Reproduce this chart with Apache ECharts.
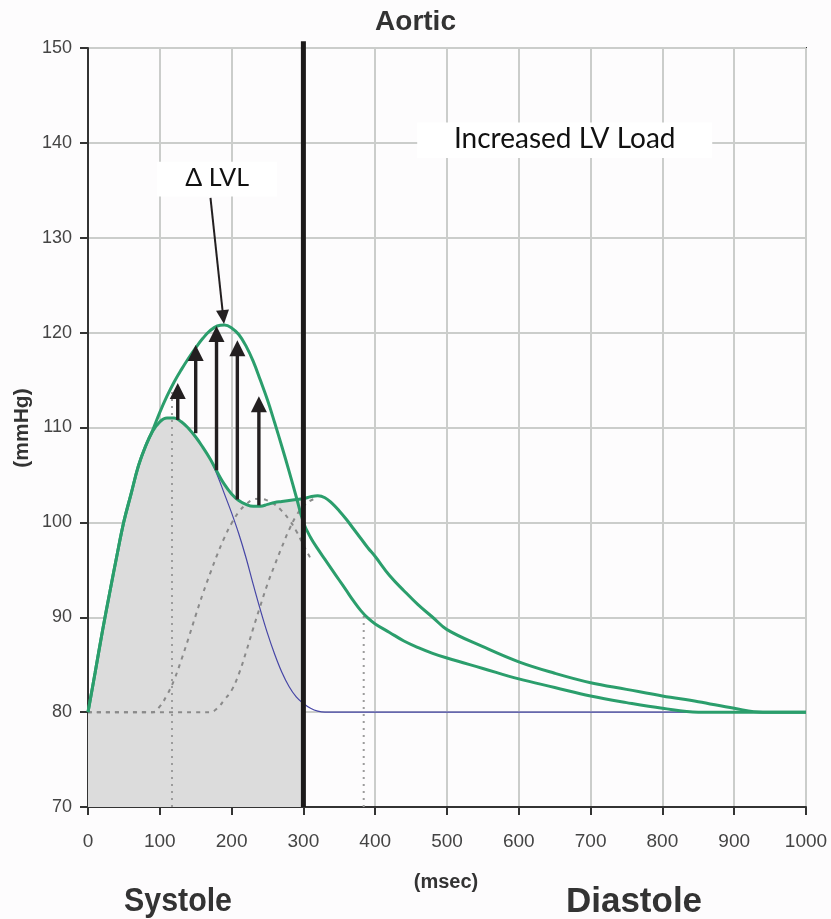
<!DOCTYPE html>
<html>
<head>
<meta charset="utf-8">
<title>Aortic</title>
<script src="https://cdn.jsdelivr.net/npm/echarts@6/dist/echarts.min.js"></script>
<style>
  html, body { margin: 0; padding: 0; background: #fdfcfd; }
  #chart { width: 831px; height: 919px; }
</style>
</head>
<body>
<div id="chart"></div>
<script>
// ---- aortic pressure (mmHg) against time (msec) ----
const xTicks = [0, 100, 200, 300, 400, 500, 600, 700, 800, 900, 1000];
const yTicks = [70, 80, 90, 100, 110, 120, 130, 140, 150];

// baseline aortic pressure wave
const baseTime = [0, 10, 20, 30, 40, 50, 60, 70, 80, 90, 100, 110, 120, 130, 140, 150, 160, 170, 180, 190,
  200, 210, 220, 230, 240, 250, 260, 270, 280, 290, 300, 310, 320, 330, 340, 350, 360, 370, 380, 390,
  400, 420, 440, 460, 480, 500, 550, 600, 650, 700, 750, 800, 850, 900, 940, 1000];
const basePressure = [80, 84.2, 88.5, 92.5, 96.4, 100.1, 103.0, 105.9, 108.0, 109.6, 110.6, 111.0, 111.0, 110.6, 109.9, 109.0, 107.9, 106.7, 105.3, 104.0,
  103.0, 102.3, 101.9, 101.7, 101.7, 101.9, 102.1, 102.2, 102.3, 102.4, 102.5, 102.7, 102.8, 102.6, 102.0, 101.2, 100.3, 99.3, 98.3, 97.3,
  96.4, 94.4, 92.8, 91.3, 90.0, 88.7, 86.9, 85.3, 84.1, 83.1, 82.4, 81.7, 81.1, 80.4, 80.0, 80.0];

// pressure wave under increased LV load
const loadTime = [0, 10, 20, 30, 40, 50, 60, 70, 80, 90, 100, 110, 120, 130, 140, 150, 160, 170, 180, 190,
  200, 210, 220, 230, 240, 250, 260, 270, 280, 290, 300, 310, 320, 330, 340, 350, 360, 370, 380, 390,
  400, 420, 440, 460, 480, 500, 550, 600, 650, 700, 750, 800, 850, 1000];
const loadPressure = [80, 84.2, 88.5, 92.5, 96.4, 100.1, 103.0, 105.9, 108.0, 109.7, 111.6, 113.3, 114.8, 116.1, 117.3, 118.4, 119.4, 120.2, 120.7, 120.8,
  120.5, 119.8, 118.6, 117.0, 115.0, 112.9, 110.5, 108.0, 105.4, 102.7, 100.0, 98.4, 97.2, 96.1, 95.0, 93.9, 92.8, 91.7, 90.7, 89.9,
  89.3, 88.4, 87.5, 86.8, 86.2, 85.7, 84.6, 83.5, 82.6, 81.7, 81.0, 80.4, 80.0, 80.0];

// forward (ejection) wave
const forwardTime = [0, 10, 20, 30, 40, 50, 60, 70, 80, 90, 100, 110, 120, 130, 140, 150, 160, 170, 180, 190,
  200, 210, 220, 230, 240, 250, 260, 270, 280, 290, 300, 310, 320, 330, 870];
const forwardPressure = [80, 84.2, 88.5, 92.5, 96.4, 100.1, 103.0, 105.9, 108.0, 109.6, 110.6, 111.0, 111.0, 110.6, 109.9, 109.0, 107.9, 106.7, 105.0, 103.0,
  101.0, 98.8, 96.3, 93.5, 90.8, 88.3, 86.1, 84.2, 82.7, 81.6, 80.9, 80.4, 80.1, 80.0, 80.0];

// reflected waves (early and late return)
const reflectEarlyTime = [0, 90, 100, 110, 120, 130, 140, 150, 160, 170, 180, 190, 200, 210, 220, 230, 240, 250, 260, 270, 280, 290, 300, 310];
const reflectEarlyPressure = [80, 80, 80.6, 81.8, 83.4, 85.5, 87.8, 90.2, 92.5, 94.6, 96.6, 98.4, 99.9, 101.1, 101.9, 102.4, 102.5, 102.3, 101.9, 101.2, 100.3, 99.1, 97.6, 96.2];
const reflectLateTime = [0, 170, 180, 190, 200, 210, 220, 230, 240, 250, 260, 270, 280, 290, 300, 310, 320];
const reflectLatePressure = [80, 80, 80.4, 81.3, 82.3, 84.0, 86.3, 88.8, 91.2, 93.5, 95.5, 97.4, 99.2, 100.7, 101.7, 102.3, 102.6];

// systolic ejection ends here
const endSystole = 300;

// markers: time of each dotted guide and the pressure it reaches
const guideTime = [117, 384];
const guideTop = [113.8, 90.2];

// arrows showing the rise in pressure (from base wave to loaded wave)
const liftTime = [125, 150, 179, 208, 238];
const liftFrom = [110.8, 109.4, 105.5, 102.4, 101.8];
const liftTo = [114.7, 118.7, 120.7, 119.2, 113.3];

// callouts
const calloutText = ['\u0394 LVL', 'Increased LV Load'];
const calloutBox = [[96.4, 138.0, 263.5, 134.35], [458.5, 142.15, 869.4, 138.4]];
const pointerFrom = [170.6, 134.2];
const pointerTo = [189.4, 120.9];

const GREEN = '#2b9e6c';
const BLUE = '#4646a6';
const INK = '#231f20';

const pairs = (xs, ys) => xs.map((x, i) => [x, ys[i]]);
const systoleArea = pairs(baseTime, basePressure).filter(p => p[0] <= endSystole);

function arrowShapes(p0, p1, headLen, headHalf, shaftW) {
  const dx = p1[0] - p0[0], dy = p1[1] - p0[1];
  const len = Math.hypot(dx, dy);
  const ux = dx / len, uy = dy / len;
  const bx = p1[0] - ux * headLen, by = p1[1] - uy * headLen;
  const nx = -uy, ny = ux;
  return [
    { type: 'line', shape: { x1: p0[0], y1: p0[1], x2: bx + ux, y2: by + uy },
      style: { stroke: INK, lineWidth: shaftW } },
    { type: 'polygon', shape: { points: [[p1[0], p1[1]], [bx + nx * headHalf, by + ny * headHalf], [bx - nx * headHalf, by - ny * headHalf]] },
      style: { fill: INK } }
  ];
}

const chart = echarts.init(document.getElementById('chart'), null, { renderer: 'canvas' });

const axisCommon = {
  type: 'value',
  axisLine: { show: true, lineStyle: { color: '#333', width: 2 } },
  axisTick: { show: true, inside: false, length: 8, lineStyle: { color: '#333', width: 2 } },
  splitLine: { show: true, lineStyle: { color: '#cbcdcb', width: 2 } },
  axisLabel: { color: '#444', fontFamily: 'Liberation Sans', fontSize: 18, formatter: v => String(v) }
};

chart.setOption({
  backgroundColor: '#fdfcfd',
  animation: false,
  grid: { left: 88, right: 25, top: 48, bottom: 112, show: true, borderColor: '#333', borderWidth: 2, backgroundColor: 'transparent' },
  xAxis: Object.assign({}, axisCommon, {
    min: xTicks[0], max: xTicks[xTicks.length - 1], interval: 100,
    axisLabel: Object.assign({}, axisCommon.axisLabel, { margin: 25, fontSize: 19 })
  }),
  yAxis: Object.assign({}, axisCommon, {
    min: yTicks[0], max: yTicks[yTicks.length - 1], interval: 10,
    axisLabel: Object.assign({}, axisCommon.axisLabel, { margin: 16 })
  }),
  series: [
    { // shaded systolic period
      type: 'line', data: systoleArea, smooth: 0.4, symbol: 'none',
      lineStyle: { width: 0 }, areaStyle: { color: '#dcdcdc', opacity: 1, origin: 'start' }, z: 1
    },
    { // dotted time guides
      type: 'custom', z: 2,
      data: guideTime.map((t, i) => [t, guideTop[i]]),
      renderItem(params, api) {
        const p0 = api.coord([api.value(0), yTicks[0]]);
        const p1 = api.coord([api.value(0), api.value(1)]);
        return { type: 'line', shape: { x1: p0[0], y1: p0[1], x2: p1[0], y2: p1[1] },
          style: { stroke: '#9c9c9c', lineWidth: 2, lineDash: [2, 5] } };
      }
    },
    {
      type: 'line', data: pairs(reflectEarlyTime, reflectEarlyPressure), smooth: 0.4, symbol: 'none', z: 3,
      lineStyle: { color: '#8a8a8a', width: 2, type: [4, 5] }
    },
    {
      type: 'line', data: pairs(reflectLateTime, reflectLatePressure), smooth: 0.4, symbol: 'none', z: 3,
      lineStyle: { color: '#8a8a8a', width: 2, type: [4, 5] }
    },
    {
      type: 'line', data: pairs(forwardTime, forwardPressure), smooth: 0.4, symbol: 'none', z: 4,
      lineStyle: { color: BLUE, width: 1.2 }
    },
    {
      type: 'line', data: pairs(baseTime, basePressure), smooth: 0.4, symbol: 'none', z: 5,
      lineStyle: { color: GREEN, width: 3 }
    },
    {
      type: 'line', data: pairs(loadTime, loadPressure), smooth: 0.4, symbol: 'none', z: 5,
      lineStyle: { color: GREEN, width: 3 }
    },
    { // rise arrows
      type: 'custom', z: 6,
      data: liftTime.map((t, i) => [t, liftFrom[i], liftTo[i]]),
      renderItem(params, api) {
        const p0 = api.coord([api.value(0), api.value(1)]);
        const p1 = api.coord([api.value(0), api.value(2)]);
        return { type: 'group', children: arrowShapes(p0, p1, 16, 8, 3.4) };
      }
    },
    { // end of systole
      type: 'line', data: [[endSystole, yTicks[0]], [endSystole, 150.7]], symbol: 'none', clip: false, z: 7,
      lineStyle: { color: '#1c1a1a', width: 5 }
    },
    { // callout boxes
      type: 'custom', z: 8, clip: false,
      data: calloutBox.map((b, i) => [b[0], b[1], b[2], b[3], i]),
      renderItem(params, api) {
        const a = api.coord([api.value(0), api.value(1)]);
        const b = api.coord([api.value(2), api.value(3)]);
        const idx = api.value(4);
        return { type: 'group', children: [
          { type: 'rect', shape: { x: a[0], y: a[1], width: b[0] - a[0], height: b[1] - a[1] }, style: { fill: '#ffffff' } },
          { type: 'text', style: {
              text: calloutText[idx], x: (a[0] + b[0]) / 2, y: (a[1] + b[1]) / 2 - 1,
              align: 'center', verticalAlign: 'middle', fill: '#111',
              font: (idx === 0 ? '25px' : '28px') + ' Lato' } }
        ] };
      }
    },
    { // pointer from the ΔLVL callout
      type: 'custom', z: 8,
      data: [[pointerFrom[0], pointerFrom[1], pointerTo[0], pointerTo[1]]],
      renderItem(params, api) {
        const p0 = api.coord([api.value(0), api.value(1)]);
        const p1 = api.coord([api.value(2), api.value(3)]);
        return { type: 'group', children: arrowShapes(p0, p1, 14, 6.5, 2) };
      }
    }
  ],
  graphic: [
    { type: 'text', left: 'center', top: 8, style: { text: 'Aortic', font: 'bold 28px "Liberation Sans"', fill: '#333' } },
    { type: 'text', x: 22, y: 428, rotation: Math.PI / 2, style: { text: '(mmHg)', font: 'bold 21px "Liberation Sans"', fill: '#333', align: 'center', verticalAlign: 'middle' } },
    { type: 'text', x: 446, y: 882, style: { text: '(msec)', font: 'bold 20px "Liberation Sans"', fill: '#333', align: 'center', verticalAlign: 'middle' } },
    { type: 'text', x: 178, y: 902, scaleX: 0.92, style: { text: 'Systole', font: 'bold 33px "Liberation Sans"', fill: '#333', align: 'center', verticalAlign: 'middle' } },
    { type: 'text', x: 634, y: 902, style: { text: 'Diastole', font: 'bold 35px "Liberation Sans"', fill: '#333', align: 'center', verticalAlign: 'middle' } }
  ]
});
</script>
</body>
</html>
